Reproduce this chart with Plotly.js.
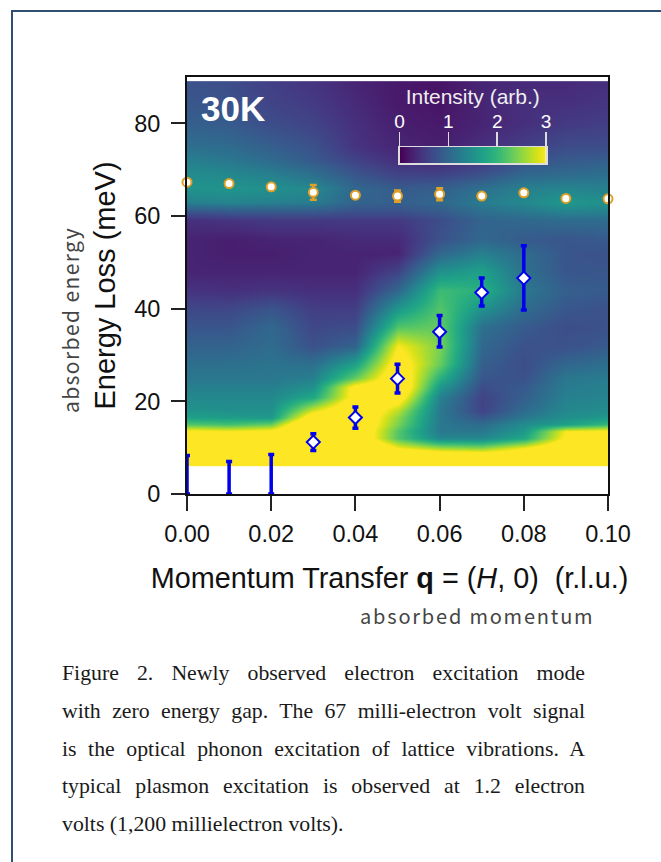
<!DOCTYPE html>
<html><head><meta charset="utf-8">
<script src="https://cdn.plot.ly/plotly-3.0.1.min.js"></script>
<style>
html,body{margin:0;padding:0;background:#fff;width:661px;height:862px;overflow:hidden}
#frame{position:absolute;left:11px;top:10px;width:660px;height:870px;border-left:2px solid #2f4f70;border-top:2px solid #2f4f70}
#chart{position:absolute;left:0;top:0;width:661px;height:862px}
#cap{position:absolute;left:62px;top:655px;width:523px;font-family:"Liberation Serif",serif;font-size:21.8px;line-height:37.8px;color:#1a1a1a}
#cap span{display:block;text-align:justify;text-align-last:justify}
#cap span:last-child{white-space:nowrap;text-align-last:left}
</style></head><body>
<div id="frame"></div><div id="chart"></div>
<div id="cap"><span>Figure 2. Newly observed electron excitation mode</span><span>with zero energy gap. The 67 milli-electron volt signal</span><span>is the optical phonon excitation of lattice vibrations. A</span><span>typical plasmon excitation is observed at 1.2 electron</span><span>volts (1,200 millielectron volts).</span></div>
<script>
const momentum=[0,0.01,0.02,0.03,0.04,0.05,0.06,0.07,0.08,0.09,0.10];
const energyRows=[6.2,6.4,9,10,12,13.5,15,16.5,18,21,23,25,28,32,36,40,44,48,52,55,59,61,63,66,69,72,75,80,85,88.8,89];
const intensity=[
[4,4,4,4,4,4,4,4,4,4,4],
[4,4,4,4,4,4,4,4,4,4,4],
[4,4,4,4,4,3.6,3.1,3,3.2,3.8,4],
[4,4,4,4,4,3,2.6,2.5,3,3.6,4],
[3.6,3.6,3.6,4,3.6,2.2,1.4,1.4,1.8,3.1,3.5],
[3.1,3,3.1,4,3.6,2.2,1.2,1.2,1.6,3,3.1],
[2.2,2.1,2.3,4,3.6,2.4,1.2,1.05,1.45,1.7,2],
[1.7,1.65,1.6,3.4,3.6,2.5,1.2,0.8,1.2,1.5,1.6],
[1.55,1.5,1.5,2.8,3.6,2.7,1.2,0.6,1.05,1.4,1.45],
[1.4,1.4,1.4,1.8,3.2,3.3,1.3,0.6,0.9,1.3,1.35],
[1.3,1.3,1.3,1.5,3.2,3.6,1.6,0.7,0.85,1.25,1.3],
[1.2,1.2,1.2,1.3,2.3,3.5,1.9,0.8,0.75,1.2,1.25],
[1.1,1.1,1.15,1.1,1.7,3.3,2.3,0.9,0.7,1,1.1],
[0.95,0.95,1.05,0.75,0.95,3,2.4,1,0.75,0.75,0.85],
[0.8,0.8,1,0.65,0.7,2.2,2.3,1.1,0.85,0.7,0.75],
[0.65,0.65,0.8,0.55,0.55,1.6,2.2,1.5,1.05,0.8,0.75],
[0.45,0.4,0.45,0.4,0.4,1,2.05,1.9,1.2,0.9,0.85],
[0.3,0.3,0.3,0.3,0.3,0.6,1.5,1.7,1.1,0.8,0.8],
[0.3,0.25,0.25,0.3,0.3,0.3,1,1.3,1.05,0.8,0.75],
[0.3,0.25,0.3,0.3,0.35,0.35,0.75,1,0.85,0.8,0.85],
[0.4,0.45,0.5,0.5,0.5,0.5,0.7,0.95,1,1.05,1.05],
[0.8,0.85,0.85,0.85,0.75,0.75,0.85,1.1,1.2,1.35,1.3],
[1.3,1.35,1.3,1.25,0.95,0.9,1,1.25,1.4,1.6,1.5],
[1.55,1.55,1.5,1.4,1,0.85,0.9,1.1,1.3,1.35,1.3],
[1.45,1.4,1.3,1.1,0.8,0.6,0.6,0.75,1,1.05,1.1],
[1.3,1.2,1.05,0.85,0.6,0.4,0.35,0.5,0.75,0.85,0.9],
[1.1,1.05,0.9,0.75,0.45,0.3,0.25,0.4,0.55,0.7,0.7],
[0.9,0.85,0.7,0.6,0.4,0.25,0.2,0.3,0.4,0.5,0.55],
[0.8,0.75,0.6,0.5,0.35,0.2,0.15,0.3,0.4,0.4,0.45],
[0.75,0.7,0.55,0.45,0.3,0.2,0.15,0.3,0.35,0.35,0.4],
[0.75,0.7,0.55,0.45,0.3,0.2,0.15,0.3,0.35,0.35,0.4]];
const phononQ=[0,0.01,0.02,0.03,0.04,0.05,0.06,0.07,0.08,0.09,0.10];
const phononE=[67.3,67,66.3,65.1,64.5,64.3,64.7,64.3,65,63.8,63.7];
const phononErr=[0,0,0,1.6,0,1.2,1.3,0,0,0,0];
const gaplessQ=[0,0.01,0.02];
const gaplessMid=[4.15,3.5,4.25];
const gaplessErr=[4.15,3.5,4.25];
const modeQ=[0.03,0.04,0.05,0.06,0.07,0.08];
const modeE=[11.2,16.5,24.9,35,43.5,46.6];
const modeErrUp=[1.8,2.3,3.1,3.5,3.1,7];
const modeErrDown=[1.8,2.3,3.1,3.3,2.9,6.9];
const legendStops=[0,0.25,0.5,0.75,1,1.25,1.5,1.75,2,2.25,2.5,2.75,3];
const legendRow=[0,1];
const legendZ=[legendStops,legendStops];
const xTicks=[0,0.02,0.04,0.06,0.08,0.10];
const xLabels=['0.00','0.02','0.04','0.06','0.08','0.10'];
const yTicks=[0,20,40,60,80];
const sans='"Liberation Sans",Arial,sans-serif';
const thin='"Noto Sans CJK JP","Noto Sans",sans-serif';
const W=661,H=862;
const L=187,T=77,PW=421,PH=417;
const traces=[
{type:'heatmap',x:momentum,y:energyRows,z:intensity,colorscale:'Viridis',zmin:0,zmax:3,zsmooth:'best',showscale:false,hoverinfo:'skip'},
{type:'scatter',mode:'markers',x:gaplessQ,y:gaplessMid,cliponaxis:false,marker:{size:1,color:'#0000ee',opacity:0},
 error_y:{type:'data',array:gaplessErr,color:'#0000ee',thickness:3.5,width:3}},
{type:'scatter',mode:'markers',x:modeQ,y:modeE,cliponaxis:false,
 marker:{symbol:'diamond',size:10,color:'#fff',line:{color:'#0000ee',width:2}},
 error_y:{type:'data',symmetric:false,array:modeErrUp,arrayminus:modeErrDown,color:'#0000ee',thickness:3.5,width:3}},
{type:'scatter',mode:'markers',x:phononQ,y:phononE,cliponaxis:false,
 marker:{symbol:'circle',size:9,color:'#fff',line:{color:'#dfa028',width:2}},
 error_y:{type:'data',array:phononErr,color:'#dfa028',thickness:2.5,width:3.5}},
{type:'heatmap',x:legendStops,y:legendRow,z:legendZ,xaxis:'x2',yaxis:'y2',colorscale:'Viridis',zmin:0,zmax:3,zsmooth:'best',showscale:false,hoverinfo:'skip'}
];
const layout={
 width:W,height:H,autosize:false,showlegend:false,
 paper_bgcolor:'rgba(0,0,0,0)',plot_bgcolor:'#fff',
 margin:{l:L,r:W-L-PW,t:T,b:H-T-PH,autoexpand:false},
 xaxis:{range:[0,0.1],domain:[0,1],tickvals:xTicks,ticktext:xLabels,ticks:'outside',ticklen:15,tickwidth:2,tickcolor:'#222',
  showline:true,mirror:true,linecolor:'#111',linewidth:2,showgrid:false,zeroline:false,
  tickfont:{family:sans,size:23.5,color:'#111'},ticklabelstandoff:3,
  title:{text:'Momentum Transfer <b>q</b> = (<i>H</i>, 0)  (r.l.u.)&nbsp;&nbsp;',font:{family:sans,size:28.8,color:'#111'},standoff:22}},
 yaxis:{range:[0,90],domain:[0,1],tickvals:yTicks,ticks:'outside',ticklen:14,tickwidth:2,tickcolor:'#222',
  showline:true,mirror:true,linecolor:'#111',linewidth:2,showgrid:false,zeroline:false,
  tickfont:{family:sans,size:23.5,color:'#111'},ticklabelstandoff:6,
  title:{text:'Energy Loss (meV)',font:{family:sans,size:29,color:'#111'},standoff:10}},
 xaxis2:{range:[0,3],domain:[(399.5-L)/PW,(546-L)/PW],anchor:'y2',side:'top',tickvals:[0,1,2,3],ticks:'outside',ticklen:14,tickwidth:1.5,tickcolor:'#ddd',
  showline:true,mirror:true,linecolor:'#ddd',linewidth:1.5,showgrid:false,zeroline:false,
  tickfont:{family:sans,size:19,color:'#fff'},ticklabelstandoff:-4,
  title:{text:'Intensity (arb.)',font:{family:sans,size:21,color:'#eee'},standoff:0}},
 yaxis2:{range:[0,1],domain:[1-(163-T)/PH,1-(147-T)/PH],anchor:'x2',showticklabels:false,ticks:'',showline:true,mirror:true,linecolor:'#ddd',linewidth:1.5,showgrid:false,zeroline:false},
 annotations:[
  {xref:'paper',yref:'paper',xanchor:'center',yanchor:'middle',x:(233-L)/PW,y:1-(108-T)/PH,text:'<b>30K</b>',showarrow:false,font:{family:sans,size:35,color:'#fff'}},
  {xref:'paper',yref:'paper',xanchor:'center',yanchor:'middle',x:(70-L)/PW,y:1-(320-T)/PH,text:'<span style="letter-spacing:1.4px">absorbed energy</span>',textangle:-90,showarrow:false,font:{family:thin,size:21,color:'#444'}},
  {xref:'paper',yref:'paper',xanchor:'center',yanchor:'middle',x:(477-L)/PW,y:1-(615-T)/PH,text:'<span style="letter-spacing:1.8px">absorbed momentum</span>',showarrow:false,font:{family:thin,size:20,color:'#444'}}
 ]
};
Plotly.newPlot('chart',traces,layout,{displayModeBar:false,staticPlot:true});
</script></body></html>
